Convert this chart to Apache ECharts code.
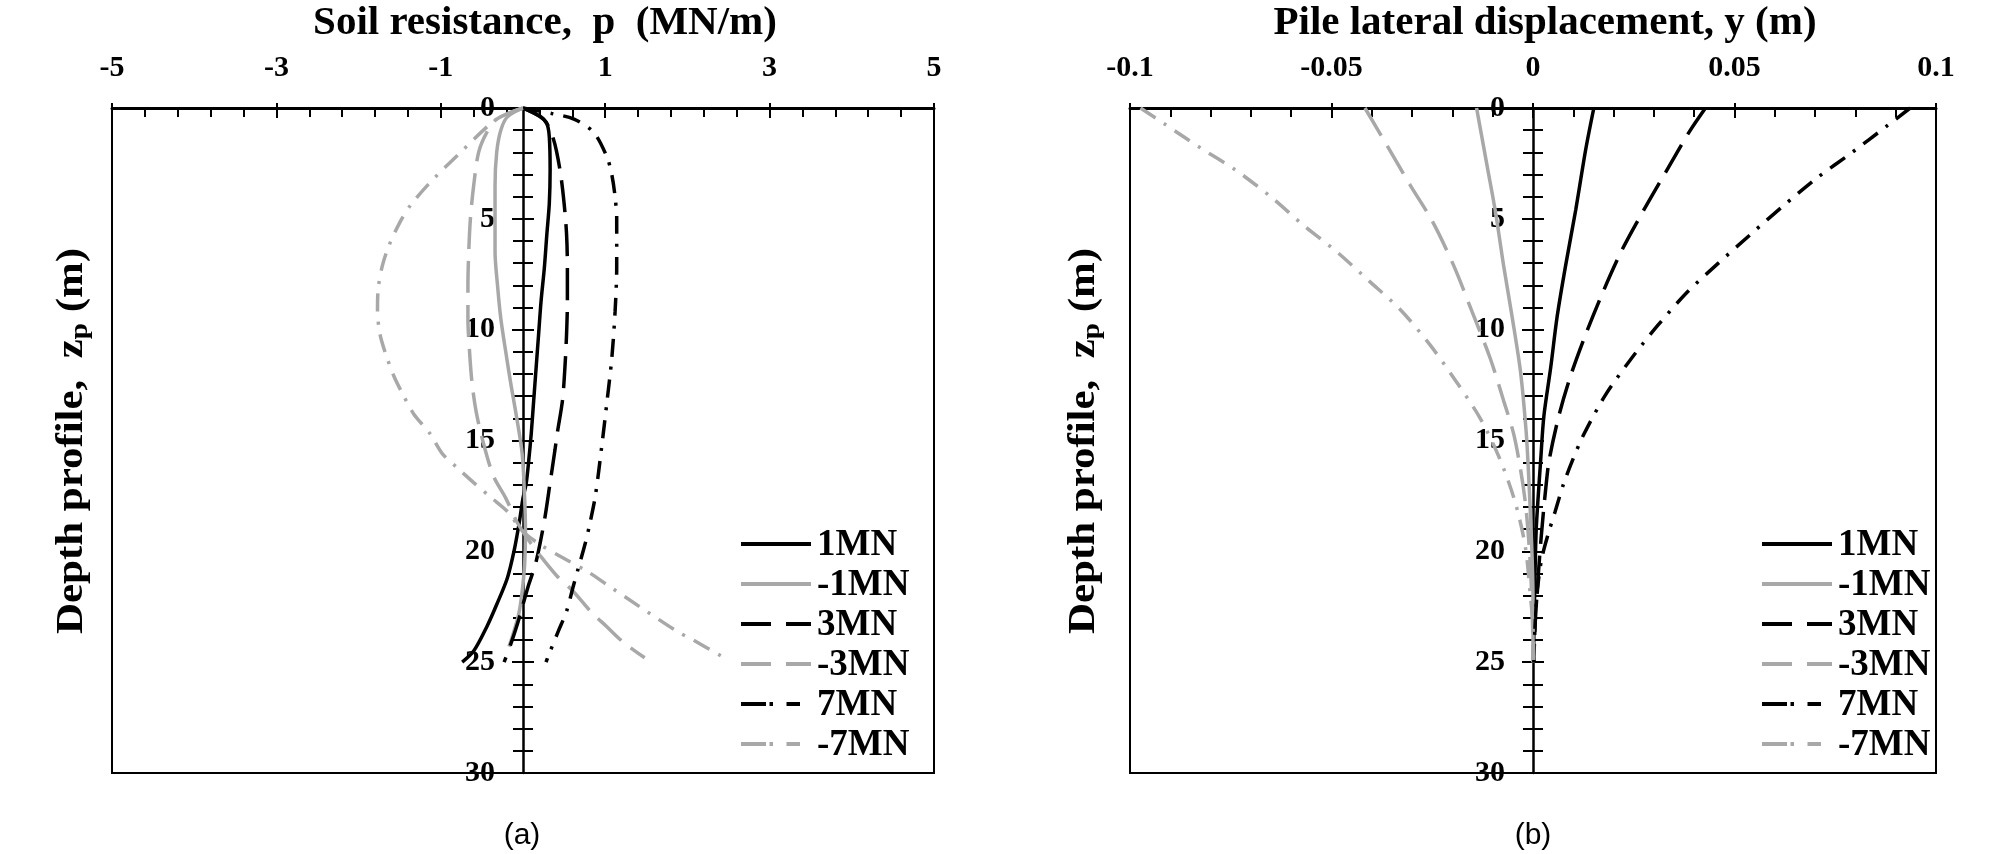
<!DOCTYPE html>
<html>
<head>
<meta charset="utf-8">
<script src="https://cdn.jsdelivr.net/npm/echarts@6/dist/echarts.min.js"></script>
<style>
html,body{margin:0;padding:0;background:#fff;}
#chart{width:2008px;height:854px;}
</style>
</head>
<body>
<div id="chart"></div>
<script>
// ---------- DATA ----------
const loadNames = ['1MN', '-1MN', '3MN', '-3MN', '7MN', '-7MN'];

// axis tick labels
const ticksA = [-5, -3, -1, 1, 3, 5];
const ticksB = [-0.1, -0.05, 0, 0.05, 0.1];
const depthTicks = [0, 5, 10, 15, 20, 25, 30];

// Panel (a): soil resistance p (MN/m) vs depth z (m)  -> [p, z]
const soil_1MN = [[0,0],[0.21,0.4],[0.29,0.7],[0.32,1.3],[0.33,2.8],[0.32,4.3],[0.29,5.7],[0.26,7.2],[0.22,8.7],[0.19,10.2],[0.16,11.7],[0.13,13.2],[0.1,14.7],[0.07,15.9],[0.04,16.9],[0,17.6],[-0.05,18.8],[-0.11,20],[-0.19,21.2],[-0.32,22.4],[-0.44,23.4],[-0.6,24.5],[-0.74,25]];
const soil_m1MN = [[0,0],[-0.19,0.4],[-0.27,1.0],[-0.32,2.0],[-0.34,3.5],[-0.34,5],[-0.34,6.5],[-0.31,8],[-0.27,9.5],[-0.21,11],[-0.15,12.4],[-0.08,13.9],[-0.01,15.6],[0.02,17.6],[0.03,19.1],[0.02,20.6],[-0.01,21.8],[-0.05,22.8],[-0.11,23.6],[-0.17,24.3]];
const soil_3MN = [[0,0],[0.25,0.5],[0.37,1.4],[0.45,2.8],[0.5,4.3],[0.53,5.7],[0.54,7.2],[0.54,8.7],[0.53,10.2],[0.51,11.7],[0.48,13.2],[0.42,14.6],[0.39,15.4],[0.33,16.9],[0.27,18.4],[0.21,19.6],[0.15,20.6],[0.07,21.5],[0,22.4],[-0.07,23.3],[-0.15,24.2],[-0.23,25]];
const soil_m3MN = [[0,0],[-0.32,0.5],[-0.44,1.1],[-0.54,2],[-0.6,3.5],[-0.64,5],[-0.66,6.5],[-0.67,8],[-0.67,9.5],[-0.65,11],[-0.62,12.4],[-0.57,13.7],[-0.49,15],[-0.36,16.6],[-0.21,17.6],[-0.07,18.7],[0.05,19.4],[0.21,20.2],[0.41,21.1],[0.61,21.8],[0.82,22.7],[1.02,23.4],[1.22,24.1],[1.48,24.8]];
const soil_7MN = [[0,0],[0.35,0.25],[0.62,0.5],[0.86,1.1],[1.02,2.2],[1.08,3],[1.12,4],[1.14,5],[1.14,7.2],[1.12,9.2],[1.08,11.3],[1.02,13.3],[0.96,15.2],[0.88,17.5],[0.81,18.8],[0.76,19.6],[0.67,20.8],[0.61,21.6],[0.53,22.7],[0.43,23.6],[0.31,24.7],[0.28,25]];
const soil_m7MN = [[0,0],[-0.32,0.5],[-0.76,2],[-1.14,3.4],[-1.37,4.4],[-1.49,5.1],[-1.63,6.2],[-1.71,7.1],[-1.76,8.1],[-1.77,9.1],[-1.74,10.2],[-1.67,11.1],[-1.57,12.1],[-1.45,13],[-1.33,13.8],[-1.13,14.7],[-0.98,15.6],[-0.78,16.3],[-0.6,16.9],[-0.38,17.6],[-0.19,18.2],[0,19.1],[0.21,19.7],[0.49,20.3],[0.78,20.9],[1.02,21.5],[1.42,22.5],[1.87,23.6],[2.07,24.0],[2.45,24.8]];

// Panel (b): pile lateral displacement y (m) vs depth z (m) -> [y, z]
const disp_1MN = [[0.0151,0],[0.0131,1.85],[0.0106,4.6],[0.0081,7.1],[0.006,9.4],[0.0044,11.7],[0.0027,13.9],[0.0019,15.9],[0.0013,17.5],[0.0008,19],[0.0005,21],[0.0003,23],[0.0001,25]];
const disp_m1MN = [[-0.014,0],[-0.0114,2.6],[-0.0093,4.7],[-0.0073,7.1],[-0.0052,9.4],[-0.0031,11.9],[-0.0017,14.6],[-0.0011,16.5],[-0.0005,18.9],[-0.0002,20.4],[0,22],[0,25]];
const disp_3MN = [[0.0428,0],[0.0387,1.1],[0.0329,2.9],[0.0275,4.6],[0.0221,6.4],[0.0176,8.2],[0.0131,10.2],[0.0093,12.1],[0.0064,13.9],[0.004,15.9],[0.0032,17.1],[0.0024,18.6],[0.0017,20.1],[0.001,21.9],[0.0005,23.4],[0.0002,25]];
const disp_m3MN = [[-0.0417,0],[-0.0362,1.7],[-0.0304,3.5],[-0.025,5.1],[-0.0197,7.1],[-0.0151,9.2],[-0.0106,11.3],[-0.0073,13.2],[-0.0048,14.7],[-0.0031,16.3],[-0.0019,17.8],[-0.0011,19.4],[-0.0005,21.2],[-0.0001,23.4],[0,25]];
const disp_7MN = [[0.0936,0],[0.0879,0.8],[0.0792,2.0],[0.0705,3.15],[0.0622,4.4],[0.054,5.7],[0.046,7.0],[0.0383,8.3],[0.031,9.8],[0.024,11.4],[0.0178,13.0],[0.0124,14.8],[0.0098,15.9],[0.0075,17],[0.0055,18.2],[0.0038,19.2],[0.0022,20.3],[0.0013,21.4],[0.0006,23],[0.0002,25]];
const disp_m7MN = [[-0.0974,0],[-0.0916,0.7],[-0.0825,1.8],[-0.0738,2.8],[-0.0651,4],[-0.0569,5.3],[-0.0486,6.5],[-0.0407,7.8],[-0.0329,9.1],[-0.0255,10.7],[-0.0192,12.3],[-0.0131,14],[-0.0083,15.8],[-0.0044,17.8],[-0.0019,19.8],[-0.0007,21.9],[0,23.4],[0.0002,25]];

const soilSeries = [soil_1MN, soil_m1MN, soil_3MN, soil_m3MN, soil_7MN, soil_m7MN];
const dispSeries = [disp_1MN, disp_m1MN, disp_3MN, disp_m3MN, disp_7MN, disp_m7MN];

// ---------- STYLE ----------
const BLACK = '#000000', GRAY = '#a8a8a8';
const SERIF = 'Liberation Serif';
const DASH = [32, 12], DASHDOT = [18, 10, 3, 10];
const seriesStyle = [
  {color: BLACK, type: 'solid'}, {color: GRAY, type: 'solid'},
  {color: BLACK, type: DASH}, {color: GRAY, type: DASH},
  {color: BLACK, type: DASHDOT}, {color: GRAY, type: DASHDOT}
];
const legendDash = [null, null, [30, 15], [30, 15], [25, 3.5, 3.5, 13.5, 13.5, 100], [25, 3.5, 3.5, 13.5, 13.5, 100]];

const grids = [
  {left: 112, top: 108, width: 822, height: 665},
  {left: 1130, top: 108, width: 806, height: 665}
];

function makeXAxes(g, ticks) {
  const min = ticks[0], max = ticks[ticks.length - 1], interval = ticks[1] - ticks[0];
  const common = {gridIndex: g, type: 'value', position: 'top', min, max, interval, splitLine: {show: false}};
  return [
    Object.assign({}, common, {
      axisLine: {onZero: false, lineStyle: {color: BLACK, width: 3}},
      axisTick: {inside: true, length: 10, lineStyle: {color: BLACK, width: 2}},
      minorTick: {show: true, splitNumber: 5, length: 9, lineStyle: {color: BLACK, width: 2}},
      axisLabel: {margin: 25, color: BLACK, fontFamily: SERIF, fontWeight: 'bold', fontSize: 30,
        formatter: v => String(Math.round(v * 100) / 100)}
    }),
    Object.assign({}, common, {
      axisLine: {show: false, onZero: false},
      axisTick: {inside: false, length: 5, lineStyle: {color: BLACK, width: 2}},
      axisLabel: {show: false}
    })
  ];
}
// y axes sit on the x = 0 line of the grid: shift them inward by the position of zero
function makeYAxes(g, ticks) {
  const xmin = ticks[0], xmax = ticks[ticks.length - 1];
  const zeroFromLeft = grids[g].width * (0 - xmin) / (xmax - xmin);
  const zeroFromRight = grids[g].width - zeroFromLeft;
  const common = {gridIndex: g, type: 'value', inverse: true, min: depthTicks[0], max: depthTicks[depthTicks.length - 1],
    interval: depthTicks[1] - depthTicks[0], splitLine: {show: false}};
  return [
    Object.assign({}, common, {
      position: 'left', offset: -zeroFromLeft,
      axisLine: {onZero: false, lineStyle: {color: BLACK, width: 2.5}},
      axisTick: {length: 11, lineStyle: {color: BLACK, width: 2}},
      minorTick: {show: true, splitNumber: 5, length: 10, lineStyle: {color: BLACK, width: 2}},
      axisLabel: {margin: 28, align: 'right', color: BLACK, fontFamily: SERIF, fontWeight: 'bold', fontSize: 30}
    }),
    Object.assign({}, common, {
      position: 'right', offset: -zeroFromRight,
      axisLine: {show: false, onZero: false},
      axisTick: {length: 11, lineStyle: {color: BLACK, width: 2}},
      minorTick: {show: true, splitNumber: 5, length: 10, lineStyle: {color: BLACK, width: 2}},
      axisLabel: {show: false}
    })
  ];
}

function makeSeries(list, g) {
  return list.map((data, i) => ({
    name: loadNames[i], type: 'line', xAxisIndex: g * 2, yAxisIndex: g * 2,
    data: data, symbol: 'none', showSymbol: false, smooth: 0.3,
    lineStyle: {color: seriesStyle[i].color, width: 3.5, type: seriesStyle[i].type},
    itemStyle: {color: seriesStyle[i].color},
    emphasis: {disabled: true}
  }));
}

// legend drawn as graphic (line sample + text label)
function makeLegend(x0) {
  const els = [];
  loadNames.forEach((n, i) => {
    const y = 544 + 40 * i;
    const ls = {stroke: seriesStyle[i].color, lineWidth: 4};
    if (legendDash[i]) ls.lineDash = legendDash[i];
    els.push({type: 'line', silent: true, shape: {x1: x0, y1: y, x2: x0 + 70, y2: y}, style: ls});
    els.push({type: 'text', silent: true, x: x0 + 76, y: y + 1,
      style: {text: n, fill: BLACK, font: 'bold 37px "Liberation Serif"',
        align: 'left', verticalAlign: 'middle', textAlign: 'left', textVerticalAlign: 'middle'}});
  });
  return els;
}

const titleFont = {color: BLACK, fontFamily: SERIF, fontWeight: 'bold', fontSize: 41};
const subFont = {color: BLACK, fontFamily: 'Liberation Sans', fontWeight: 'normal', fontSize: 30};

function yName(x) {
  return {
    type: 'text', x: x, y: 441, rotation: Math.PI / 2, scaleX: 1.16, silent: true,
    style: {
      text: '{a|Depth profile,  z}{s|p}{a| (m)}',
      align: 'center', verticalAlign: 'middle', textAlign: 'center', textVerticalAlign: 'middle',
      fill: BLACK,
      rich: {
        a: {fontFamily: SERIF, fontWeight: 'bold', fontSize: 37, lineHeight: 46, fill: BLACK, color: BLACK},
        s: {fontFamily: SERIF, fontWeight: 'bold', fontSize: 25, lineHeight: 46, verticalAlign: 'bottom', fill: BLACK, color: BLACK, padding: [0, 0, 2, 0]}
      }
    }
  };
}

const option = {
  animation: false,
  backgroundColor: '#ffffff',
  title: [
    {text: 'Soil resistance,  p  (MN/m)', left: 545, top: 3, padding: 0, textAlign: 'center', textStyle: titleFont},
    {text: 'Pile lateral displacement, y (m)', left: 1545, top: 3, padding: 0, textAlign: 'center', textStyle: titleFont},
    {text: '(a)', left: 522, top: 821, padding: 0, textAlign: 'center', textStyle: subFont},
    {text: '(b)', left: 1533, top: 821, padding: 0, textAlign: 'center', textStyle: subFont}
  ],
  grid: grids.map(g => Object.assign({show: true, borderColor: BLACK, borderWidth: 2, backgroundColor: 'transparent'}, g)),
  xAxis: makeXAxes(0, ticksA).concat(makeXAxes(1, ticksB)),
  yAxis: makeYAxes(0, ticksA).concat(makeYAxes(1, ticksB)),
  series: makeSeries(soilSeries, 0).concat(makeSeries(dispSeries, 1)),
  graphic: [yName(72), yName(1084)].concat(makeLegend(741), makeLegend(1762))
};

const chart = echarts.init(document.getElementById('chart'), null, {renderer: 'canvas'});
chart.setOption(option);
</script>
</body>
</html>
